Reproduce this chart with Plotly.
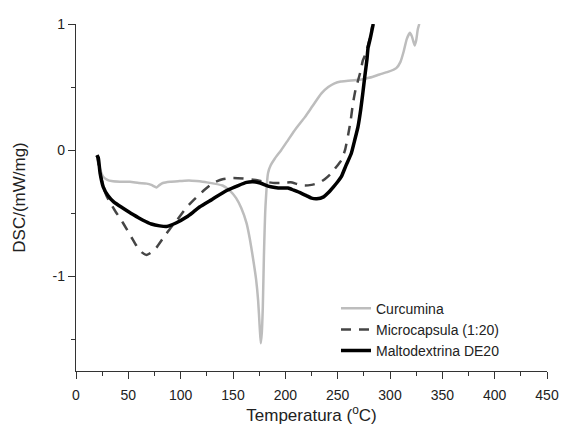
import plotly.graph_objects as go

# DSC thermograms: temperature (°C) vs heat flow (mW/mg)
curc_t = [20, 23, 26, 30, 34, 42, 51.5, 60, 67.5, 72, 77, 80, 83, 90, 99, 108, 115, 125,
          140, 147, 153, 158, 163, 166, 169, 172, 174, 175.5, 176.5, 177.5, 178.5, 179.5,
          181, 183.5, 186, 190, 196, 202.6, 210, 218.5, 226, 234.5, 241, 247, 253, 260,
          266, 272.6, 278, 283, 290, 298, 306, 310, 313, 316, 319, 321, 323.5, 325, 326.6, 328]
curc_v = [-0.04, -0.15, -0.21, -0.235, -0.245, -0.25, -0.25, -0.26, -0.265, -0.275, -0.295,
          -0.275, -0.26, -0.25, -0.245, -0.24, -0.245, -0.255, -0.28, -0.32, -0.38, -0.46,
          -0.58, -0.7, -0.85, -1.02, -1.19, -1.4, -1.53, -1.45, -1.24, -0.85, -0.45, -0.18,
          -0.12, -0.066, 0.0, 0.08, 0.17, 0.26, 0.35, 0.45, 0.5, 0.53, 0.545, 0.55, 0.555,
          0.56, 0.57, 0.58, 0.6, 0.62, 0.65, 0.7, 0.78, 0.88, 0.93, 0.9, 0.83, 0.87, 0.96, 1.0]

micro_t = [20, 23, 26, 29, 33, 38, 43, 48, 53, 58, 63, 67.5, 72, 77, 83, 90, 96, 105, 113,
           122, 131, 140, 150, 160, 170, 180, 190, 196, 205, 212, 218.5, 225, 232, 237.6,
           243, 248, 253.5, 257, 260, 262.5, 264.6, 267, 269.4, 272, 274, 276, 278, 280.5,
           282, 283]
micro_v = [-0.04, -0.18, -0.28, -0.36, -0.42, -0.49, -0.55, -0.62, -0.69, -0.76, -0.81,
           -0.83, -0.81, -0.77, -0.7, -0.62, -0.56, -0.46, -0.39, -0.32, -0.26, -0.23,
           -0.22, -0.225, -0.235, -0.25, -0.26, -0.26, -0.255, -0.27, -0.28, -0.275, -0.26,
           -0.23, -0.19, -0.14, -0.08, 0.0, 0.12, 0.24, 0.37, 0.475, 0.55, 0.63, 0.71, 0.75,
           0.8, 0.88, 0.93, 0.98]

malto_t = [20, 21.3, 23, 26, 30.5, 36, 45, 54.5, 64, 72, 80, 86.5, 96, 105.6, 112, 118, 130,
           144, 155, 163, 169, 176, 183.5, 190, 196, 202.6, 208, 215, 220, 225, 230, 236.6,
           240.7, 246, 250, 253.5, 258, 263, 266, 269.4, 272, 274, 276, 278, 279, 281,
           282.5, 284]
malto_v = [-0.04, -0.06, -0.18, -0.29, -0.36, -0.41, -0.46, -0.51, -0.555, -0.585, -0.60,
           -0.605, -0.575, -0.53, -0.49, -0.45, -0.39, -0.32, -0.28, -0.255, -0.25, -0.26,
           -0.285, -0.295, -0.30, -0.30, -0.317, -0.34, -0.36, -0.38, -0.385, -0.37, -0.34,
           -0.29, -0.25, -0.21, -0.12, -0.026, 0.07, 0.185, 0.32, 0.45, 0.59, 0.72, 0.81,
           0.88, 0.94, 1.0]

x_ticks = [0, 50, 100, 150, 200, 250, 300, 350, 400, 450]
y_ticks = [-1, 0, 1]

FONT = "Liberation Sans, Arial, sans-serif"

fig = go.Figure()
fig.add_trace(go.Scatter(x=curc_t, y=curc_v, mode="lines", name="Curcumina",
                         line=dict(color="#bdbdbd", width=2.5, shape="spline", smoothing=0.5)))
fig.add_trace(go.Scatter(x=micro_t, y=micro_v, mode="lines", name="Microcapsula (1:20)",
                         line=dict(color="#454545", width=2.5, dash="10px,8px",
                                   shape="spline", smoothing=0.5)))
fig.add_trace(go.Scatter(x=malto_t, y=malto_v, mode="lines", name="Maltodextrina DE20",
                         line=dict(color="#000000", width=3.5, shape="spline", smoothing=0.5)))

axis_common = dict(
    showline=True, linecolor="#333333", linewidth=1.3, mirror=False,
    showgrid=False, zeroline=False, automargin=False,
    ticks="outside", ticklen=7, tickwidth=1.2, tickcolor="#333333",
    tickfont=dict(family=FONT, size=14, color="#222222"),
)

fig.update_xaxes(
    range=[0, 450], tickvals=x_ticks, ticktext=[str(v) for v in x_ticks],
    minor=dict(ticks="outside", ticklen=4, tickwidth=1.2, tickcolor="#333333", dtick=25, showgrid=False),
    ticklabelstandoff=4,
    title=dict(text="Temperatura (<sup>o</sup>C)", standoff=6,
               font=dict(family=FONT, size=17, color="#222222")),
    **axis_common,
)
fig.update_yaxes(
    range=[-1.75, 1.0], tickvals=y_ticks, ticktext=[str(v) for v in y_ticks],
    minor=dict(ticks="outside", ticklen=4, tickwidth=1.2, tickcolor="#333333", dtick=0.5,
               tick0=0, showgrid=False),
    title=dict(text="DSC/(mW/mg)", standoff=22,
               font=dict(family=FONT, size=17, color="#222222")),
    **axis_common,
)

fig.update_layout(
    width=562, height=428,
    margin=dict(l=76, r=15, t=24, b=57),
    paper_bgcolor="white", plot_bgcolor="white",
    showlegend=True,
    legend=dict(x=0.552, y=0.226, xanchor="left", yanchor="top",
                bgcolor="rgba(0,0,0,0)", borderwidth=0,
                font=dict(family=FONT, size=14, color="#222222"),
                tracegroupgap=0, itemwidth=30),
)

fig.write_html("out.html")
